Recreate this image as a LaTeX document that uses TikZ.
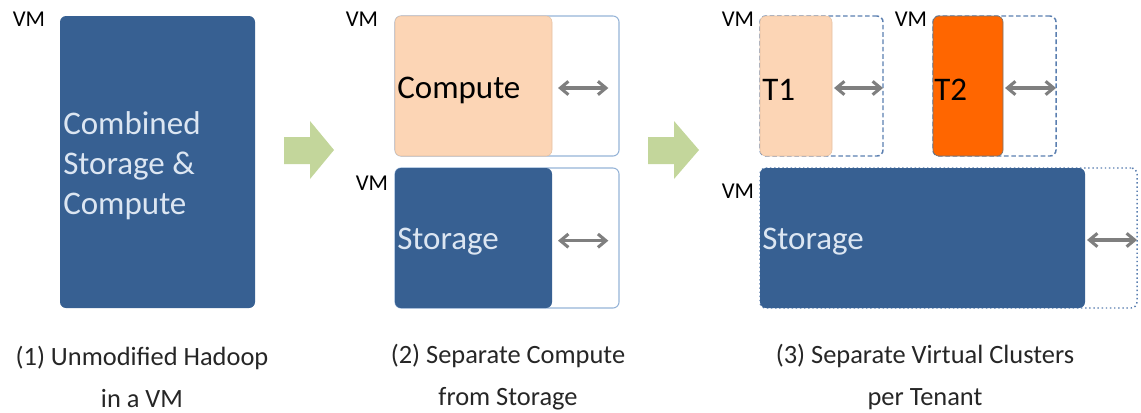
\documentclass[tikz,border=0pt]{standalone}
\usepackage{fontspec}
\setmainfont{Carlito}
\usetikzlibrary{arrows.meta}

\definecolor{vmblue}{RGB}{55,96,146}
\definecolor{vmtext}{RGB}{220,230,242}
\definecolor{peach}{RGB}{252,213,181}
\definecolor{tenant}{RGB}{255,102,0}
\definecolor{frame}{RGB}{149,179,215}
\definecolor{dframe}{RGB}{91,127,176}
\definecolor{leaf}{RGB}{195,214,155}
\definecolor{grip}{RGB}{127,127,127}

\newcommand{\bigfont}{\fontsize{24.75}{30}\selectfont}
\newcommand{\vmfont}{\fontsize{17}{19}\selectfont}
\newcommand{\capfont}{\fontsize{19.8}{31.5}\selectfont}

\begin{document}
\begin{tikzpicture}[x=0.75pt,y=-0.75pt,
    box/.style={rectangle, rounded corners=4.5pt, inner sep=0pt, outer sep=0pt},
    full/.style={box, fill=vmblue},
    slot/.style={box, draw=frame, line width=0.8pt},
    dslot/.style={box, draw=dframe, line width=1.1pt, dash pattern=on 3.5pt off 2pt},
    oslot/.style={box, draw=dframe, line width=1.1pt, dotted},
    vm/.style={font=\vmfont},
    inlabel/.style={anchor=west, inner sep=0pt, font=\bigfont},
    resize/.style={{Straight Barb[length=6pt,width=10pt]}-{Straight Barb[length=6pt,width=10pt]}, draw=grip, line width=2.3pt},
    caption/.style={align=center, font=\capfont, text=black!85}]

  \useasboundingbox (0,0) rectangle (1141,412);

  % (1) one VM
  \node[vm] (vm1) at (29,19) {VM};
  \node[full, minimum width=146.25pt, minimum height=219pt] (comb) at (157.5,162) {};
  \node[inlabel, align=left, text=vmtext, font=\fontsize{24.75}{30}\selectfont] (combtxt) at (63,166) {Combined\\Storage \&\\Compute};

  \fill[leaf] (284,137) -- (310,137) -- (310,121) -- (334,150) -- (310,179) -- (310,164) -- (284,164) -- cycle;

  % (2) compute and storage apart
  \node[vm] (vm2) at (362,19) {VM};
  \node[slot, minimum width=168pt, minimum height=105pt] (compvm) at (507,86) {};
  \node[box, fill=peach, draw=peach!90!black, line width=0.4pt, minimum width=117.75pt, minimum height=105pt] (comp) at (473.5,86) {};
  \node[inlabel] (comptxt) at (397,90) {Compute};
  \draw[resize] ([xshift=4.5pt,yshift=-1.5pt]comp.east) -- ([xshift=-8pt,yshift=-1.5pt]compvm.east);

  \node[vm] (vm3) at (372,183) {VM};
  \node[slot, minimum width=168pt, minimum height=105pt] (storvm) at (507,238) {};
  \node[full, minimum width=117.75pt, minimum height=105pt] (stor) at (473.5,238) {};
  \node[inlabel, text=vmtext] (stortxt) at (397,242) {Storage};
  \draw[resize] ([xshift=4.5pt,yshift=-2pt]stor.east) -- ([xshift=-8pt,yshift=-2pt]storvm.east);

  \fill[leaf] (648,137) -- (674,137) -- (674,121) -- (699,150) -- (674,179) -- (674,164) -- (648,164) -- cycle;

  % (3) one virtual cluster per tenant
  \node[vm] (vm4) at (738,19) {VM};
  \node[dslot, minimum width=92.25pt, minimum height=105pt] (t1vm) at (821.5,86) {};
  \node[box, fill=peach, draw=peach!90!black, line width=0.4pt, minimum width=54pt, minimum height=105pt] (t1) at (796,86) {};
  \node[inlabel] (t1txt) at (762,90) {T1};
  \draw[resize] ([xshift=1.5pt,yshift=-1.5pt]t1.east) -- ([yshift=-1.5pt]t1vm.east);

  \node[vm] (vm5) at (911,19) {VM};
  \node[dslot, minimum width=92.25pt, minimum height=105pt] (t2vm) at (994.5,86) {};
  \node[box, fill=tenant, draw=black!55, line width=0.5pt, minimum width=52.5pt, minimum height=105pt] (t2) at (968,86) {};
  \node[inlabel] (t2txt) at (934,90) {T2};
  \draw[resize] ([xshift=1.5pt,yshift=-1.5pt]t2.east) -- ([yshift=-1.5pt]t2vm.east);

  \node[vm] (vm6) at (738,191) {VM};
  \node[oslot, minimum width=282.75pt, minimum height=105pt] (shvm) at (948.5,238) {};
  \node[full, minimum width=243.75pt, minimum height=105pt] (sh) at (922.5,238) {};
  \node[inlabel, text=vmtext] (shtxt) at (762,242) {Storage};
  \draw[resize] ([xshift=1.5pt,yshift=-1.5pt]sh.east) -- ([yshift=-1.5pt]shvm.east);

  % captions
  \node[caption] (cap1) at (142,377) {(1) Unmodified Hadoop\\in a VM};
  \node[caption] (cap2) at (508,377) {(2) Separate Compute\\from Storage};
  \node[caption] (cap3) at (925,377) {(3) Separate Virtual Clusters\\per Tenant};
\end{tikzpicture}
\end{document}
